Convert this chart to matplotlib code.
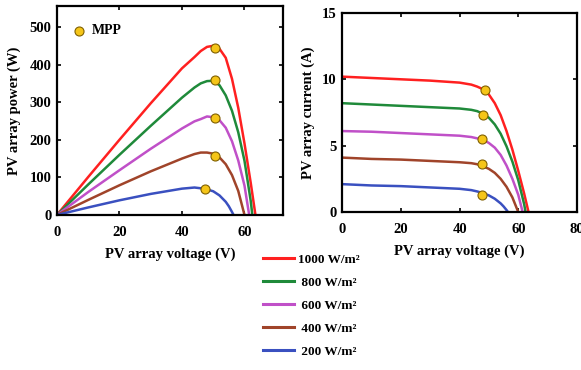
import matplotlib.pyplot as plt
from matplotlib.lines import Line2D

plt.rcParams['font.family'] = ['Liberation Serif', 'DejaVu Serif']
plt.rcParams['font.weight'] = 'bold'

# irradiance levels and colours
labels = ["1000 W/m\u00b2", " 800 W/m\u00b2", " 600 W/m\u00b2", " 400 W/m\u00b2", " 200 W/m\u00b2"]
colors = ["#ff2020", "#1f8a3a", "#c050c8", "#a0442a", "#3a50c0"]

# voltage points per curve (V)
v1000 = [0, 10, 20, 30, 40, 44, 46, 48, 50, 52, 54, 56, 58, 60, 62, 63.5]
v800 = [0, 10, 20, 30, 40, 44, 46, 48, 50, 52, 54, 56, 58, 60, 62, 62.5]
v600 = [0, 10, 20, 30, 40, 44, 46, 48, 50, 52, 54, 56, 58, 60, 61.5]
v400 = [0, 10, 20, 30, 40, 44, 46, 48, 50, 52, 54, 56, 58, 60]
v200 = [0, 10, 20, 30, 40, 44, 46, 48, 50, 52, 54, 55, 56, 56.5]

# current (A)
i1000 = [10.2, 10.1, 10.0, 9.9, 9.75, 9.6, 9.45, 9.25, 8.85, 8.2, 7.3, 6.1, 4.7, 3.1, 1.4, 0]
i800 = [8.2, 8.1, 8.0, 7.9, 7.8, 7.7, 7.6, 7.4, 7.1, 6.6, 5.9, 4.95, 3.8, 2.4, 0.6, 0]
i600 = [6.1, 6.05, 5.95, 5.85, 5.75, 5.65, 5.55, 5.45, 5.2, 4.85, 4.3, 3.5, 2.5, 1.3, 0]
i400 = [4.1, 4.0, 3.95, 3.85, 3.75, 3.68, 3.6, 3.45, 3.25, 2.95, 2.5, 1.9, 1.1, 0]
i200 = [2.1, 2.0, 1.95, 1.85, 1.75, 1.65, 1.55, 1.42, 1.25, 1.0, 0.65, 0.42, 0.15, 0]

# power (W)
p1000 = [0, 101, 200, 297, 390, 420, 436, 447, 450, 442, 418, 362, 285, 190, 85, 0]
p800 = [0, 81, 160, 237, 312, 339, 350, 356, 357, 345, 318, 277, 220, 144, 37, 0]
p600 = [0, 61, 119, 176, 230, 249, 255, 262, 260, 252, 232, 196, 145, 78, 0]
p400 = [0, 40, 79, 116, 150, 162, 166, 166, 163, 153, 135, 106, 64, 0]
p200 = [0, 20, 39, 56, 70, 73, 71, 68, 63, 52, 35, 23, 8, 0]

# maximum power points
mpp_pv_v = [50.5, 50.5, 50.5, 50.5, 47.5]
mpp_pv_p = [445, 358, 258, 157, 68]
mpp_iv_v = [48.5, 48, 47.5, 47.5, 47.5]
mpp_iv_i = [9.2, 7.3, 5.5, 3.6, 1.3]

volts = [v1000, v800, v600, v400, v200]
currents = [i1000, i800, i600, i400, i200]
powers = [p1000, p800, p600, p400, p200]

fig = plt.figure(figsize=(5.81, 3.70), dpi=100)
ax1 = fig.add_axes([0.098, 0.419, 0.389, 0.565])
ax2 = fig.add_axes([0.589, 0.427, 0.404, 0.538])

mk = dict(marker='o', ls='none', ms=6.5, mfc='#f5c518', mec='#806000', mew=0.8, zorder=5)

for v, p, c in zip(volts, powers, colors):
    ax1.plot(v, p, color=c, lw=1.8)
ax1.plot(mpp_pv_v, mpp_pv_p, **mk)
ax1.plot([7], [490], **mk)
ax1.text(11, 490, "MPP", fontsize=10, va='center', fontweight='bold')

for v, i, c in zip(volts, currents, colors):
    ax2.plot(v, i, color=c, lw=1.8)
ax2.plot(mpp_iv_v, mpp_iv_i, **mk)

ax1.set_xlim(0, 72.3)
ax1.set_ylim(0, 556)
ax1.set_xticks([0, 20, 40, 60])
ax1.set_yticks([0, 100, 200, 300, 400, 500])
ax1.set_xlabel("PV array voltage (V)", fontsize=10.5, fontweight='bold', labelpad=6)
ax1.set_ylabel("PV array power (W)", fontsize=10.5, fontweight='bold', labelpad=6)

ax2.set_xlim(0, 80)
ax2.set_ylim(0, 15)
ax2.set_xticks([0, 20, 40, 60, 80])
ax2.set_yticks([0, 5, 10, 15])
ax2.set_xlabel("PV array voltage (V)", fontsize=10.5, fontweight='bold', labelpad=6)
ax2.set_ylabel("PV array current (A)", fontsize=10.5, fontweight='bold', labelpad=5)

for ax in (ax1, ax2):
    ax.tick_params(direction='in', top=True, right=True, length=3, width=1.2,
                   labelsize=10.5, pad=4)
    ax.tick_params(axis='x', pad=8)
    for s in ax.spines.values():
        s.set_linewidth(1.6)
    for t in ax.get_xticklabels() + ax.get_yticklabels():
        t.set_fontweight('bold')

handles = [Line2D([], [], color=c, lw=2.2) for c in colors]
fig.legend(handles, labels, loc='upper left', bbox_to_anchor=(0.452, 0.315),
           frameon=False, handlelength=2.4, handletextpad=0.25,
           labelspacing=0.82, borderpad=0, borderaxespad=0,
           prop={'weight': 'bold', 'size': 9.5})

fig.savefig("out.png", dpi=100)
